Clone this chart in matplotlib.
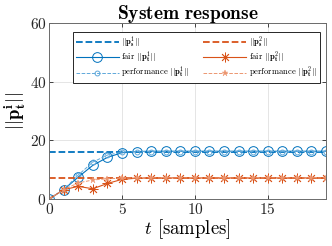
import numpy as np
import matplotlib
matplotlib.use("Agg")
import matplotlib.pyplot as plt

plt.rcParams['font.family'] = 'serif'
plt.rcParams['font.serif'] = ['cmr10']
plt.rcParams['mathtext.fontset'] = 'cm'
plt.rcParams['axes.formatter.use_mathtext'] = True

# samples
t = np.arange(20)

# steady-state references
ps1 = 16.2
ps2 = 7.2

# fair allocation
fair1 = [0, 3.2, 7.5, 11.5, 14.2, 15.8, 16.2, 16.3, 16.3, 16.3,
         16.3, 16.3, 16.3, 16.3, 16.3, 16.3, 16.3, 16.3, 16.3, 16.3]
fair2 = [0, 3.2, 4.3, 3.5, 5.3, 6.7, 7.1, 7.2, 7.2, 7.2,
         7.2, 7.2, 7.2, 7.2, 7.2, 7.2, 7.2, 7.2, 7.2, 7.2]

# performance allocation
perf1 = [0, 3.2, 8.2, 12.6, 15.0, 16.0, 16.2, 16.2, 16.2, 16.2,
         16.2, 16.2, 16.2, 16.2, 16.2, 16.2, 16.2, 16.2, 16.2, 16.2]
perf2 = [0, 3.2, 5.5, 6.5, 6.9, 7.1, 7.2, 7.2, 7.2, 7.2,
         7.2, 7.2, 7.2, 7.2, 7.2, 7.2, 7.2, 7.2, 7.2, 7.2]

blue = '#0072BD'
orange = '#D95319'
lblue = '#5FA8DA'
lorange = '#EC9670'

fig = plt.figure(figsize=(3.32, 2.46), dpi=100)
ax = fig.add_axes([0.148, 0.191, 0.834, 0.715])

h1, = ax.plot([t[0], t[-1]], [ps1, ps1], '--', color=blue, lw=1.3,
              label=r'$||\mathbf{p}_\mathbf{s}^1||$')
h3, = ax.plot(t, fair1, '-', color=blue, lw=0.8, marker='o', ms=7,
              mfc='none', mew=0.7, label=r'fair $||\mathbf{p}_\mathbf{t}^1||$')
h5, = ax.plot(t, perf1, '--', color=lblue, lw=0.7, marker='o', ms=3.5,
              mfc='none', mew=0.7, label=r'performance $||\mathbf{p}_\mathbf{t}^1||$')
h2, = ax.plot([t[0], t[-1]], [ps2, ps2], '--', color=orange, lw=1.3,
              label=r'$||\mathbf{p}_\mathbf{s}^2||$')
h4, = ax.plot(t, fair2, '-', color=orange, lw=0.8, marker=(8, 2, 0), ms=7,
              mew=0.6, label=r'fair $||\mathbf{p}_\mathbf{t}^2||$')
h6, = ax.plot(t, perf2, '--', color=lorange, lw=0.7, marker='*', ms=4.5,
              mew=0.3, label=r'performance $||\mathbf{p}_\mathbf{t}^2||$')

ax.set_xlim(0, 19)
ax.set_ylim(0, 60)
ax.set_xticks([0, 5, 10, 15])
ax.set_yticks([0, 20, 40, 60])
ax.grid(True, color='#e0e0e0', lw=0.6)
ax.set_axisbelow(True)
ax.tick_params(direction='in', top=True, right=True, labelsize=11,
               length=3, width=0.6, colors='#262626', pad=2)
for s in ax.spines.values():
    s.set_color('#6b6b6b')
    s.set_linewidth(0.7)

ax.set_title(r'$\mathbf{System\ response}$', fontsize=14, pad=3)
ax.set_xlabel(r'$t$ [samples]', fontsize=13.5, labelpad=0)
ax.set_ylabel(r'$||\mathbf{p}_\mathbf{t}^\mathbf{i}||$', fontsize=13.5, labelpad=1)

leg = ax.legend(handles=[h1, h3, h5, h2, h4, h6], ncol=2, fontsize=6.2,
                loc='upper left', bbox_to_anchor=(0.087, 0.95),
                fancybox=False, edgecolor='#262626', framealpha=1,
                handlelength=5.0, handleheight=0.5, handletextpad=0.3,
                columnspacing=1.6, labelspacing=0.0, borderpad=0.3,
                borderaxespad=0)
leg.get_frame().set_linewidth(0.7)

fig.savefig('out.png', dpi=100)
